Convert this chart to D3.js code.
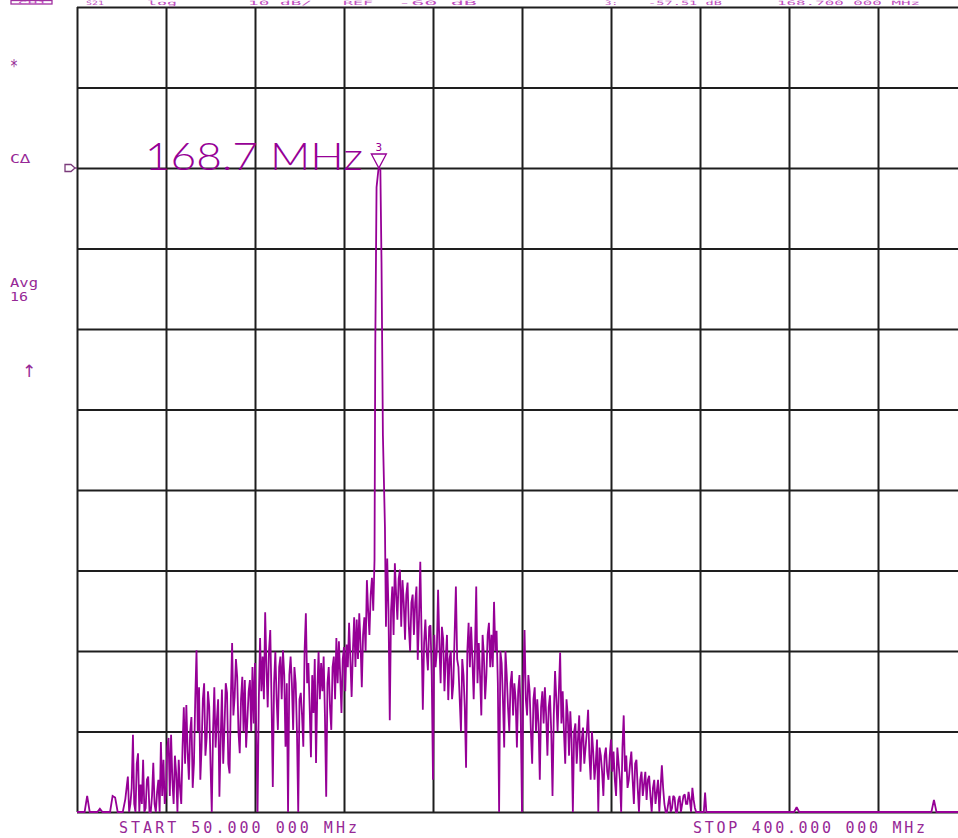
<!DOCTYPE html>
<html><head><meta charset="utf-8">
<script src="https://cdn.jsdelivr.net/npm/d3@7"></script>
<style>html,body{margin:0;padding:0;background:#fff;overflow:hidden}</style>
</head><body><svg id="c" width="958" height="838"></svg>
<script>
// ---------- data ----------
const startMHz = 50, stopMHz = 400, stepMHz = 1;
const dbTop = 20, dbBottom = -80, refDb = 0, divisions = 10;
// trace, one value per MHz from 50 to 400 (null = covered by the peak points)
const traceDb = [
 -80,-80,-80,-80,-78,-80,-80,-80,-80,-79.6,
 -80,-80,-80,-80,-78,-78.2,-80,-80,-80,-78.4,
 -75.6,-79,-70.4,-80,-72.7,-76.6,-73.5,-79.5,-75.6,-80,
 -73.9,-80,-76,-71.3,-73.5,-77.3,-70.8,-70.4,-79,-75.2,
 -73.5,-79,-67,-66.7,-76,-68.2,-73.9,-59.9,-64.5,-71.9,
 -64,-70.7,-66.9,-80,-64.5,-68.6,-78.1,-64.8,-69.5,-65.2,
 -75.2,-59,-65.7,-63.2,-72.7,-63.2,-63.6,-68.6,-63.6,-62,
 -61.5,-80,-58.4,-60.7,-55.2,-67,-57.4,-76.9,-60.1,-69.8,
 -60.7,-59.9,-71.9,-80,-60.7,-69.8,-64,-80,-65.2,-71.9,
 -55.3,-61.5,-73.2,-67.7,-73.9,-60.1,-61.5,-60.7,-78.1,-62,
 -69.8,-60.7,-58.4,-58.8,-67.7,-59.5,-59.2,-56.5,-65.7,-55.8,
 -56.1,-55.3,-64.5,-55.8,-51.2,-58,-50.9,null,null,null,
 null,null,-48.5,-68.6,-52,-49.1,-56.1,-49.9,-51.2,-58.6,
 -51.5,-60,-53,-54,-61.1,-48.9,-67.3,-56.1,-62.4,-56.8,
 -76,-62,-52.4,-64,-58.5,-61,-66.1,-60,-64,-52,
 -62,-70,-63,-74.5,-56.5,-57,-66,-52,-59,-68,
 -60.5,-63,-56.5,-58,-53.9,-57.5,-80,-61.5,-72,-63,
 -70,-62.5,-64,-72,-63,-80,-57.4,-68,-65,-74,
 -64.5,-66,-76,-65,-64.5,-73,-65.5,-78,-62.5,-70,
 -60.2,-65,-74,-68,-67.5,-80,-69,-71,-75,-69.5,
 -72,-67.3,-76,-72.5,-74,-80,-73,-78,-72,-76,
 -71,-72.5,-78,-74,-80,-68,-73,-76,-72.5,-79,
 -73.5,-80,-75,-76.5,-78.5,-75.5,-80,-76,-77.5,-80,
 -74.2,-79,-80,-78,-79.5,-78.2,-80,-78,-79,-77.8,
 -79,-78.5,-77,-79.5,-80,-80,-80,-77.6,-80,-80,
 -80,-80,-80,-80,-80,-80,-80,-80,-80,-80,
 -80,-80,-80,-80,-80,-80,-80,-80,-80,-80,
 -80,-80,-80,-80,-80,-80,-80,-80,-80,-80,
 -80,-80,-80,-79.4,-80,-80,-80,-80,-80,-80,
 -80,-80,-80,-80,-80,-80,-80,-80,-80,-80,
 -80,-80,-80,-80,-80,-80,-80,-80,-80,-80,
 -80,-80,-80,-80,-80,-80,-80,-80,-80,-80,
 -80,-80,-80,-80,-80,-80,-80,-80,-80,-80,
 -80,-80,-80,-80,-80,-80,-80,-78.5,-80,-80,
 -80,-80,-80,-80,-80,-80,-80,-80,-80,-80,
 -80
];
// in-between samples (70.5 .. 299.5 MHz, every 1 MHz) of the dense noisy band
const midStartMHz = 70.5;
const traceMidDb = [
 -80,-77,-79,-74,-80,-79,-80,-76,-80,-78,
 -79,-77.5,-80,-78,-79,-72,-78,-76,-73,-80,
 -77,-72,-74,-72.5,-70,-77,-66,-70,-76,-66,
 -73,-65,-74,-70,-72,-66,-71,-74,-64,-74,
 -66,-68,-61,-70,-66,-70,-72,-65,-70,-69,
 -70,-66,-65,-66,-62,-60,-66,-64,-66,-62,
 -66,-63,-64,-63,-64,-62,-70,-66,-68,-60,
 -64,-67,-63,-61,-65,-66,-65,-68,-64,-67,
 -62,-66,-64,-63,-61,-65,-62,-61,-60,-62,
 -61,-59,-58,-60,-55,-53,-55,null,null,null,
 null,-57,-55,-55,-58,-53,-51,-57,-54,-53,
 -57,-54,-58,-52,-56,-58,-59,-60,-57,-63,
 -58,-60,-59,-57,-65,-58,-61,-66,-58,-61,
 -66,-61,-67,-60,-62,-61,-60,-64,-63,-58,
 -66,-58,-62,-62,-60,-64,-60,-66,-60,-67,
 -64,-68,-66,-65,-68,-64,-66,-63,-70,-66,
 -70,-69,-67,-69,-68,-67,-70,-68,-66,-65,
 -69,-70,-66,-73,-71,-70,-74,-68,-71,-74,
 -70,-73,-70,-76,-71,-72,-75,-73,-75,-73,
 -75,-76,-72,-76,-72,-75,-77,-74,-76,-74,
 -77,-76,-78,-75,-76,-78,-77,-79,-76,-77,
 -77,-80,-79,-80,-78,-80,-78.5,-80,-78,-79,
 -77.5,-80,-78.5,-80,-80,-80,-80,-80,-80,-80
];
const peakFreq = [167.0, 167.3, 167.8, 168.6, 169.3, 169.75, 170.3, 171.1];
const peakDb   = [-48.7, -22.2, -2.4, 0, -0.2, -11.7, -33.2, -44.6];
const markerFreq = 168.7, markerLabel = "168.7 MHz", markerNum = "3";
const headerTexts = ["CH1", "S21", "log", "10 dB/", "REF", "-60 dB", "3:", "-57.51 dB", "168.700 000 MHz"];
const sideLabels = ["*", "C\u2206", "Avg", "16", "\u2191"];
const startLabel = "START  50.000 000 MHz";
const stopLabel  = "STOP  400.000 000 MHz";

// ---------- drawing ----------
const W = 958, H = 838;
const L = 77, R = 967, T = 7, B = 812;
const svg = d3.select("#c");
svg.append("rect").attr("width", W).attr("height", H).attr("fill", "#fff");

const x = d3.scaleLinear().domain([startMHz, stopMHz]).range([L, R]);
const y = d3.scaleLinear().domain([dbBottom, dbTop]).range([B, T]);

const xGrid = d3.range(divisions + 1).map(i => startMHz + i * (stopMHz - startMHz) / divisions);
const yGrid = d3.range(divisions + 1).map(i => dbBottom + i * (dbTop - dbBottom) / divisions);

const gridColor = "#1e1e1e";
svg.append("g").attr("transform", `translate(0,${B})`)
  .call(d3.axisBottom(x).tickValues(xGrid).tickSize(-(B - T)).tickFormat(""))
  .call(g => g.select(".domain").remove())
  .selectAll("line").attr("stroke", gridColor).attr("stroke-width", 2);
svg.append("g").attr("transform", `translate(${L},0)`)
  .call(d3.axisLeft(y).tickValues(yGrid).tickSize(-(R - L)).tickFormat(""))
  .call(g => g.select(".domain").remove())
  .selectAll("line").attr("stroke", gridColor).attr("stroke-width", 2);

// trace
const pts = traceDb.map((v, i) => ({ f: startMHz + i * stepMHz, db: v }))
  .concat(traceMidDb.map((v, i) => ({ f: midStartMHz + i * stepMHz, db: v })))
  .filter(d => d.db !== null)
  .concat(peakFreq.map((f, i) => ({ f, db: peakDb[i] })))
  .sort((a, b) => a.f - b.f);

const traceColor = "#960096";
svg.append("clipPath").attr("id", "clip").append("rect")
  .attr("x", L).attr("y", T - 2).attr("width", R - L).attr("height", B - T + 5);
svg.append("path").datum(pts)
  .attr("clip-path", "url(#clip)")
  .attr("fill", "none").attr("stroke", traceColor).attr("stroke-width", 1.8)
  .attr("stroke-linejoin", "miter").attr("stroke-miterlimit", 2)
  .attr("d", d3.line().x(d => x(d.f)).y(d => y(d.db)));

const txtColor = "#962896";
const mono = "'DejaVu Sans Mono', 'Liberation Mono', monospace";

// header (only its lowest edge shows at the top of the picture)
svg.append("rect").attr("x", 11).attr("y", 0.5).attr("width", 41).attr("height", 3.5)
  .attr("fill", "none").attr("stroke", "#a030a0").attr("stroke-width", 1.3);
const headerLayout = [[18, 29], [86, 18], [147, 30], [248, 64], [343, 30], [398, 79], [605, 13], [648, 74], [777, 143]];
headerTexts.forEach((t, i) => {
  svg.append("text").attr("x", headerLayout[i][0]).attr("y", i === 0 ? 3.6 : 4.8)
    .attr("textLength", headerLayout[i][1]).attr("lengthAdjust", "spacingAndGlyphs")
    .attr("font-family", mono).attr("font-size", i === 0 ? 4 : 6).attr("fill", "#c050c0").text(t);
});

// side annotations: [x, baseline, width, size, font]
const sideLayout = [
  [10, 72, 8, 17, mono], [10, 163, 20, 13, mono], [10, 287, 28, 13, mono],
  [10, 301, 18, 13, mono], [22, 377, 10, 17, "'DejaVu Sans', sans-serif"]
];
sideLabels.forEach((t, i) => {
  const s = sideLayout[i];
  const el = svg.append("text").attr("x", s[0]).attr("y", s[1])
    .attr("font-family", s[4]).attr("font-size", s[3]).attr("fill", txtColor).text(t);
  if (i < 4) el.attr("textLength", s[2]).attr("lengthAdjust", "spacingAndGlyphs");
});

// reference level pointer
const ry = y(refDb);
svg.append("path")
  .attr("d", `M65,${ry - 3.5}H71L75,${ry}L71,${ry + 3.5}H65Z M75,${ry}H${L}`)
  .attr("fill", "none").attr("stroke", "#7a3a7a").attr("stroke-width", 1.3);

// marker
const mx = x(markerFreq);
svg.append("path")
  .attr("d", `M${mx - 7.5},${ry - 14}H${mx + 7.5}L${mx},${ry}Z`)
  .attr("fill", "none").attr("stroke", traceColor).attr("stroke-width", 1.3);
svg.append("text").attr("x", mx).attr("y", ry - 17).attr("text-anchor", "middle")
  .attr("font-family", mono).attr("font-size", 11).attr("fill", traceColor).text(markerNum);
svg.append("text").attr("x", mx - 234).attr("y", ry + 2)
  .attr("textLength", 218).attr("lengthAdjust", "spacingAndGlyphs")
  .attr("font-family", "Lato, 'DejaVu Sans', sans-serif").attr("font-weight", 300)
  .attr("font-size", 38).attr("fill", traceColor).text(markerLabel);

// start / stop
svg.append("text").attr("x", 119).attr("y", 833)
  .attr("textLength", 238).attr("lengthAdjust", "spacing")
  .attr("font-family", mono).attr("font-size", 15).attr("fill", txtColor).text(startLabel);
svg.append("text").attr("x", 693).attr("y", 833)
  .attr("textLength", 232).attr("lengthAdjust", "spacing")
  .attr("font-family", mono).attr("font-size", 15).attr("fill", txtColor).text(stopLabel);
</script></body></html>
